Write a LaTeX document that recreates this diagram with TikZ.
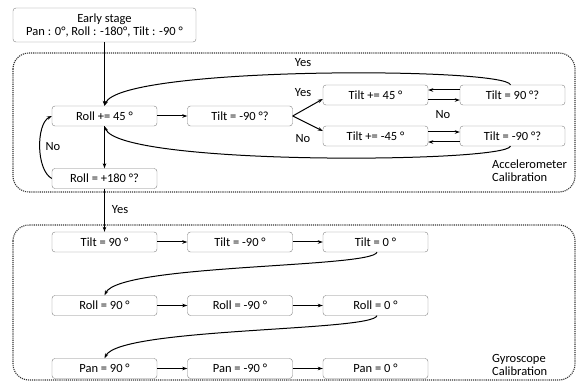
\documentclass[tikz,border=0pt]{standalone}
\usepackage{fontspec}
\setmainfont{Carlito}
\usetikzlibrary{arrows.meta}
\begin{document}
\begin{tikzpicture}[x=1pt,y=-1pt,
  box/.style={draw=black!50, rounded corners=3pt, minimum width=105pt, minimum height=20pt, inner sep=0pt, font=\fontsize{12.5}{14}\selectfont},
  region/.style={draw=black!80, densely dotted, line width=1.1pt, rounded corners=16pt},
  arr/.style={-{Stealth[length=5pt,width=3.5pt]}, line width=1pt},
  lbl/.style={font=\fontsize{12.5}{14}\selectfont, inner sep=1pt},
]
\useasboundingbox (0,0) rectangle (576,382);
% regions
\draw[region] (13,53) rectangle (575,192);
\draw[region] (13,225) rectangle (575,380);
% nodes
\node[box, minimum width=183pt, minimum height=34pt, align=center] (early) at (104.5,25) {Early stage\\[-1pt]Pan : 0°, Roll : -180°, Tilt : -90 °};
\node[box] (r45) at (104.5,116) {Roll += 45 °};
\node[box] (tm90q) at (240,116) {Tilt = -90 °?};
\node[box] (r180q) at (104.5,178.5) {Roll = +180 °?};
\node[box] (tp45) at (375.5,95) {Tilt += 45 °};
\node[box] (t90q) at (512.5,95) {Tilt = 90 °?};
\node[box] (tm45) at (375.5,136) {Tilt += -45 °};
\node[box] (tm90q2) at (512.5,136) {Tilt = -90 °?};
\node[box] (g1) at (104.5,242) {Tilt = 90 °};
\node[box] (g2) at (240,242) {Tilt = -90 °};
\node[box] (g3) at (375.5,242) {Tilt = 0 °};
\node[box] (g4) at (104.5,305.5) {Roll = 90 °};
\node[box] (g5) at (240,305.5) {Roll = -90 °};
\node[box] (g6) at (375.5,305.5) {Roll = 0 °};
\node[box] (g7) at (104.5,368.5) {Pan = 90 °};
\node[box] (g8) at (240,368.5) {Pan = -90 °};
\node[box] (g9) at (375.5,368.5) {Pan = 0 °};
% labels
\node[lbl] (yes1) at (303,63) {Yes};
\node[lbl] (yes2) at (303,93) {Yes};
\node[lbl] (no2) at (303,139) {No};
\node[lbl] (no3) at (443,115) {No};
\node[lbl] (no1) at (53,147) {No};
\node[lbl] (yes3) at (120,210) {Yes};
\node[lbl, anchor=west, align=left] (acc) at (491,171) {Accelerometer\\[-1pt]Calibration};
\node[lbl, anchor=west, align=left] (gyr) at (491,365) {Gyroscope\\[-1pt]Calibration};
% connectors
\draw[arr] (early.south) -- (r45.north);
\draw[arr] (r45.east) -- (tm90q.west);
\draw[arr] (r45.south) -- (r180q.north);
\draw[arr] (r180q.south) -- (g1.north);
\draw[arr] (r180q.west) .. controls (36,170) and (36,124) .. (r45.west);
\draw[arr] (tm90q.east) -- ([yshift=-4pt]tp45.west);
\draw[arr] (tm90q.east) -- ([yshift=5pt]tm45.west);
\draw[arr] ([yshift=-5pt]tp45.east) -- ([yshift=-5pt]t90q.west);
\draw[arr] ([yshift=5pt]t90q.west) -- ([yshift=5pt]tp45.east);
\draw[arr] ([yshift=-6pt]tm90q2.west) -- ([yshift=-6pt]tm45.east);
\draw[arr] ([yshift=4pt]tm45.east) -- ([yshift=4pt]tm90q2.west);
\coordinate (t90top) at ([xshift=-2pt]t90q.north);
\coordinate (tm90bot) at ([xshift=-2pt]tm90q2.south);
\draw[arr] (t90top) .. controls (505,67) and (120,66) .. (r45.north);
\draw[arr] (tm90bot) .. controls (505,163) and (120,166) .. (r45.south);
\draw[arr] (g1.east) -- (g2.west);
\draw[arr] (g2.east) -- (g3.west);
\draw[arr] (g4.east) -- (g5.west);
\draw[arr] (g5.east) -- (g6.west);
\draw[arr] (g7.east) -- (g8.west);
\draw[arr] (g8.east) -- (g9.west);
\coordinate (g3b) at ([xshift=1.5pt]g3.south);
\coordinate (g6b) at ([xshift=1.5pt]g6.south);
\draw[arr] (g3b) .. controls (372,268) and (120,264) .. (g4.north);
\draw[arr] (g6b) .. controls (372,331.5) and (120,327.5) .. (g7.north);
\end{tikzpicture}
\end{document}
